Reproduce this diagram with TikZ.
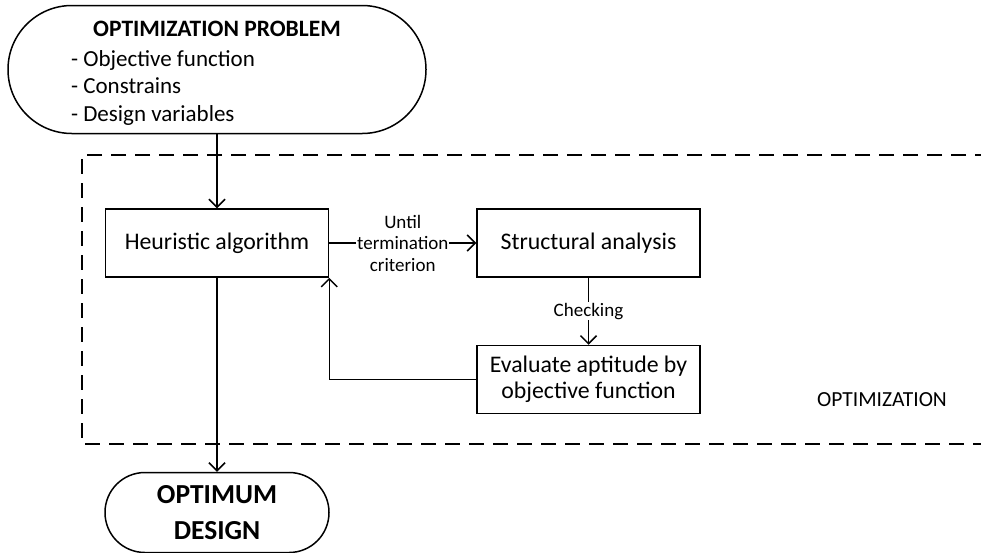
\documentclass[tikz,border=0pt]{standalone}
\usepackage{fontspec}
\setmainfont{Carlito}
\usetikzlibrary{arrows.meta,positioning}

\begin{document}
\begin{tikzpicture}[
          x=1pt, y=1pt,
          line width=1.5pt,
          node distance=67pt,
          arr/.style={-{Straight Barb[length=8pt,width=16pt]}},
          box/.style={draw, minimum width=223pt, minimum height=68pt, align=center, font=\fontsize{23.8}{26}\selectfont},
          pill/.style={draw, inner sep=0pt, align=center},
          lbl/.style={fill=white, inner sep=1pt, align=center, font=\fontsize{19}{21.5}\selectfont},
          frame/.style={line width=2pt, dash pattern=on 15pt off 9pt}
        ]
        \useasboundingbox (0,0) rectangle (981,-552);
        % boxes
        \node[box] (heur) at (217,-243) {Heuristic algorithm};
        \node[box, right=147pt of heur] (struct) {Structural analysis};
        \node[box, below=of struct] (eval) {Evaluate aptitude by\\objective function};
        \node[pill, minimum width=418pt, minimum height=128pt, rounded corners=63.9pt, above=74pt of heur] (prob) {};
        \node[pill, minimum width=224pt, minimum height=80pt, rounded corners=39.9pt, below=194pt of heur,
              font=\bfseries\fontsize{27.5}{36}\selectfont] (opt) {OPTIMUM\\DESIGN};
        % texts of the problem
        \node[anchor=base, font=\bfseries\fontsize{23.5}{26}\selectfont] (probtitle) at (217,-36) {OPTIMIZATION PROBLEM};
        \node[anchor=base west, align=left, font=\fontsize{23}{27.5}\selectfont] (probitems) at (67,-121)
          {- Objective function\\- Constrains\\- Design variables};
        % optimization frame
        \draw[frame] (990,-155) -- (82,-155) -- (82,-444) -- (990,-444);
        \node[font=\fontsize{21.5}{25}\selectfont] (optlbl) at (882,-400) {OPTIMIZATION};
        % connectors
        \draw[arr] (prob) -- (heur);
        \draw[arr] (heur) -- node[lbl] {Until\\termination\\criterion} (struct);
        \draw[arr] (struct) -- node[lbl] {Checking} (eval);
        \draw[arr] (eval.west) -| (heur.south east);
        \draw[arr] (heur) -- (opt);
\end{tikzpicture}
\end{document}
